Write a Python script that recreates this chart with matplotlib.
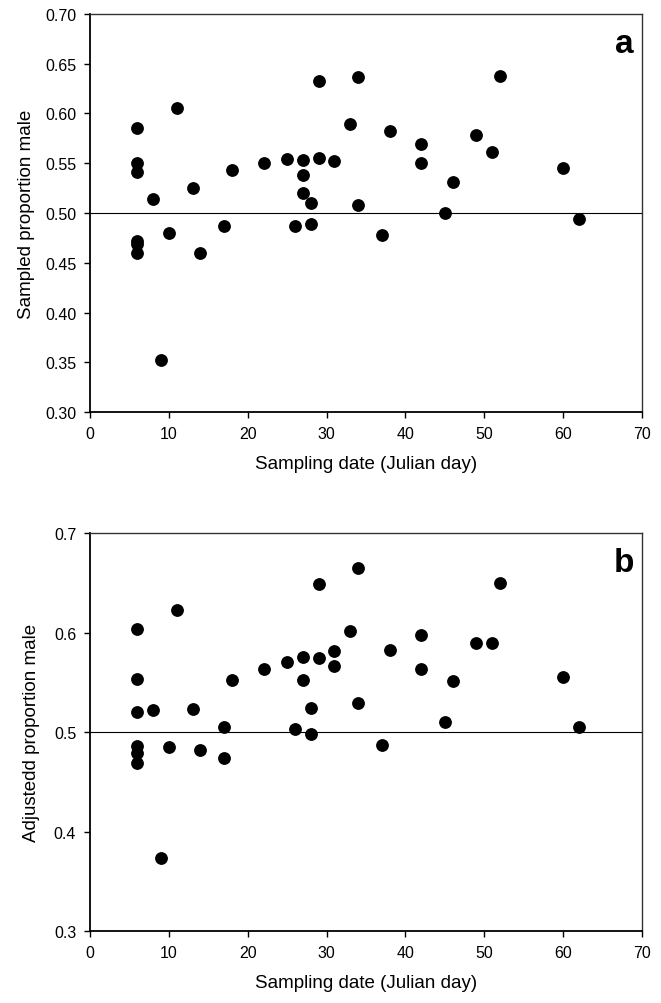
import matplotlib
matplotlib.use("Agg")
import matplotlib.pyplot as plt

plt.rcParams['font.family'] = ['Liberation Sans', 'DejaVu Sans']

# panel a: sampled proportion male
days_a = [6, 6, 6, 6, 6, 6, 8, 9, 10, 11, 13, 14, 17, 18, 22, 25, 26,
          27, 27, 27, 28, 28, 29, 29, 31, 33, 34, 34, 37, 38, 42, 42,
          45, 46, 49, 51, 52, 60, 62]
prop_a = [0.585, 0.550, 0.541, 0.472, 0.469, 0.460, 0.514, 0.352, 0.480,
          0.606, 0.525, 0.460, 0.487, 0.543, 0.550, 0.554, 0.487,
          0.553, 0.538, 0.520, 0.510, 0.489, 0.633, 0.555, 0.552, 0.589,
          0.637, 0.508, 0.478, 0.582, 0.569, 0.550,
          0.500, 0.531, 0.578, 0.561, 0.638, 0.545, 0.494]

# panel b: adjusted proportion male
days_b = [6, 6, 6, 6, 6, 6, 8, 9, 10, 11, 13, 14, 17, 17, 18, 22, 25, 26,
          27, 27, 28, 28, 29, 29, 31, 31, 33, 34, 34, 37, 38, 42, 42,
          45, 46, 49, 51, 52, 60, 62]
prop_b = [0.604, 0.553, 0.520, 0.486, 0.479, 0.469, 0.522, 0.373, 0.485,
          0.623, 0.523, 0.482, 0.505, 0.474, 0.552, 0.563, 0.570, 0.503,
          0.575, 0.552, 0.524, 0.498, 0.649, 0.574, 0.581, 0.566, 0.602,
          0.665, 0.529, 0.487, 0.582, 0.598, 0.563,
          0.510, 0.551, 0.589, 0.589, 0.650, 0.555, 0.505]

x_ticks = [0, 10, 20, 30, 40, 50, 60, 70]
yticks_a = [0.30, 0.35, 0.40, 0.45, 0.50, 0.55, 0.60, 0.65, 0.70]
yticks_b = [0.3, 0.4, 0.5, 0.6, 0.7]

fig = plt.figure(figsize=(6.61, 10.04), dpi=100)
ax1 = fig.add_axes([0.1362, 0.5886, 0.8351, 0.3965])
ax2 = fig.add_axes([0.1362, 0.0717, 0.8351, 0.3964])

panels = [
    (ax1, days_a, prop_a, yticks_a, "%.2f", "Sampled proportion male", "a", 7),
    (ax2, days_b, prop_b, yticks_b, "%.1f", "Adjustedd proportion male", "b", 10),
]

for ax, d, p, yt, fmt, ylab, tag, ypad in panels:
    ax.plot(d, p, 'o', color='black', markersize=8.2, zorder=3)
    ax.axhline(0.5, color='black', linewidth=0.8)
    ax.set_xlim(0, 70)
    ax.set_ylim(0.3, 0.7)
    ax.set_xticks(x_ticks)
    ax.set_yticks(yt)
    ax.set_yticklabels([fmt % v for v in yt])
    ax.tick_params(direction='out', length=4, width=1, labelsize=11.5, pad=6)
    for s in ['left', 'bottom']:
        ax.spines[s].set_linewidth(1.3)
    for s in ['top', 'right']:
        ax.spines[s].set_linewidth(1.0)
        ax.spines[s].set_color('#333333')
    ax.set_xlabel("Sampling date (Julian day)", fontsize=13.5, labelpad=10)
    ax.set_ylabel(ylab, fontsize=13.5, labelpad=ypad)
    ax.text(0.985, 0.925, tag, transform=ax.transAxes, ha='right', va='center',
            fontsize=24, fontweight='bold')

fig.savefig("out.png", dpi=100)
